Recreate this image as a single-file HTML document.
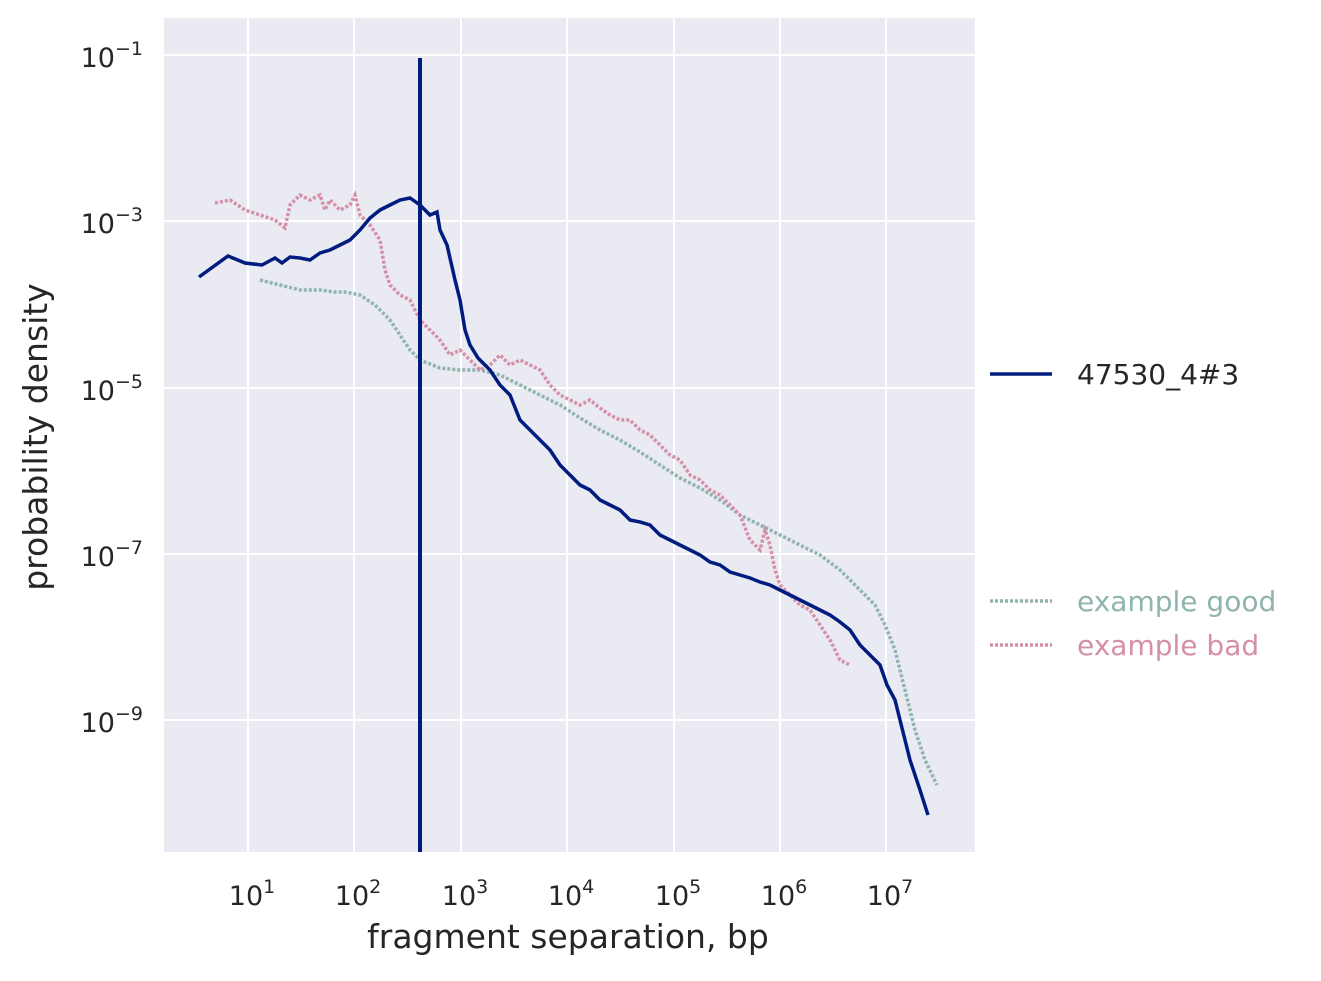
<!DOCTYPE html>
<html><head><meta charset="utf-8"><style>
body{margin:0;background:#fff;}
svg text{font-family:"DejaVu Sans","Liberation Sans",sans-serif;fill:#262626;}
</style></head><body>
<svg width="1321" height="976" viewBox="0 0 1321 976" xmlns="http://www.w3.org/2000/svg">
<rect x="164" y="18" width="811" height="834" fill="#EAEAF2"/>
<g stroke="#fff" stroke-width="2">
<line x1="248" y1="18" x2="248" y2="852"/><line x1="354" y1="18" x2="354" y2="852"/><line x1="461" y1="18" x2="461" y2="852"/><line x1="567" y1="18" x2="567" y2="852"/><line x1="674" y1="18" x2="674" y2="852"/><line x1="780" y1="18" x2="780" y2="852"/><line x1="886" y1="18" x2="886" y2="852"/>
<line x1="164" y1="55" x2="975" y2="55"/><line x1="164" y1="221" x2="975" y2="221"/><line x1="164" y1="388" x2="975" y2="388"/><line x1="164" y1="554" x2="975" y2="554"/><line x1="164" y1="720" x2="975" y2="720"/>
</g>
<g font-size="27" text-anchor="middle">
<text x="252" y="905">10<tspan dy="-12" font-size="19">1</tspan></text>
<text x="358" y="905">10<tspan dy="-12" font-size="19">2</tspan></text>
<text x="465" y="905">10<tspan dy="-12" font-size="19">3</tspan></text>
<text x="571" y="905">10<tspan dy="-12" font-size="19">4</tspan></text>
<text x="678" y="905">10<tspan dy="-12" font-size="19">5</tspan></text>
<text x="784" y="905">10<tspan dy="-12" font-size="19">6</tspan></text>
<text x="890" y="905">10<tspan dy="-12" font-size="19">7</tspan></text>
</g>
<g font-size="27" text-anchor="end">
<text x="143" y="67">10<tspan dy="-12" font-size="19">−1</tspan></text>
<text x="143" y="233">10<tspan dy="-12" font-size="19">−3</tspan></text>
<text x="143" y="400">10<tspan dy="-12" font-size="19">−5</tspan></text>
<text x="143" y="566">10<tspan dy="-12" font-size="19">−7</tspan></text>
<text x="143" y="732">10<tspan dy="-12" font-size="19">−9</tspan></text>
</g>
<text x="568" y="948" font-size="33" text-anchor="middle">fragment separation, bp</text>
<text transform="translate(47,437) rotate(-90)" font-size="33" text-anchor="middle">probability density</text>
<polyline fill="none" stroke="#8FB4AE" stroke-width="3.5" stroke-dasharray="3,2" points="260,280 280,285 300,290 320,290 335,292 345,292 360,295 375,305 390,320 400,335 410,350 420,360 440,368 460,370 480,370 500,375 520,385 540,395 560,405 580,418 600,430 620,440 640,452 660,465 680,478 700,488 720,500 740,515 760,525 780,535 800,545 820,555 840,570 860,590 875,605 885,625 895,650 905,690 915,730 925,760 937,785"/>
<polyline fill="none" stroke="#D68FA8" stroke-width="3.5" stroke-dasharray="3,2" points="215,203 230,200 245,210 260,215 275,220 285,228 290,205 300,195 310,200 320,195 325,210 330,200 340,210 350,205 355,195 360,215 365,220 370,225 380,240 385,270 390,285 400,295 410,300 420,320 430,330 440,340 450,355 460,350 470,360 480,370 490,365 500,355 510,365 520,360 530,365 540,370 550,385 560,395 570,400 580,405 590,400 600,408 610,415 620,420 630,420 640,430 650,435 660,445 670,455 680,460 690,475 700,480 710,490 720,495 730,505 740,515 750,540 760,550 765,530 770,545 775,570 780,585 790,595 800,605 810,610 820,625 830,640 840,660 850,665"/>
<polyline fill="none" stroke="#001C7F" stroke-width="3.5" points="199,277 228,256 245,263 262,265 275,258 282,263 290,257 300,258 310,260 320,253 330,250 340,245 350,240 360,230 370,218 380,210 390,205 400,200 410,198 420,205 430,215 437,212 440,230 447,245 455,280 460,300 465,330 470,345 478,358 490,370 500,385 510,395 520,420 530,430 540,440 550,450 560,465 570,475 580,485 590,490 600,500 610,505 620,510 630,520 640,522 650,525 660,535 670,540 680,545 690,550 700,555 710,562 720,565 730,572 740,575 750,578 760,582 770,585 780,590 790,595 800,600 810,605 820,610 830,615 840,622 850,630 860,645 870,655 880,665 887,685 895,700 900,720 910,760 920,790 928,815"/>
<line x1="420" y1="58" x2="420" y2="852" stroke="#001C7F" stroke-width="4"/>
<line x1="990" y1="374" x2="1052" y2="374" stroke="#001C7F" stroke-width="3.5"/>
<text x="1077" y="384" font-size="28">47530_4#3</text>
<line x1="990" y1="601" x2="1052" y2="601" stroke="#8FB4AE" stroke-width="3.5" stroke-dasharray="3,2"/>
<text x="1077" y="611" font-size="28" style="fill:#8FB4AE">example good</text>
<line x1="990" y1="645" x2="1052" y2="645" stroke="#D68FA8" stroke-width="3.5" stroke-dasharray="3,2"/>
<text x="1077" y="655" font-size="28" style="fill:#D68FA8">example bad</text>
</svg>
</body></html>
